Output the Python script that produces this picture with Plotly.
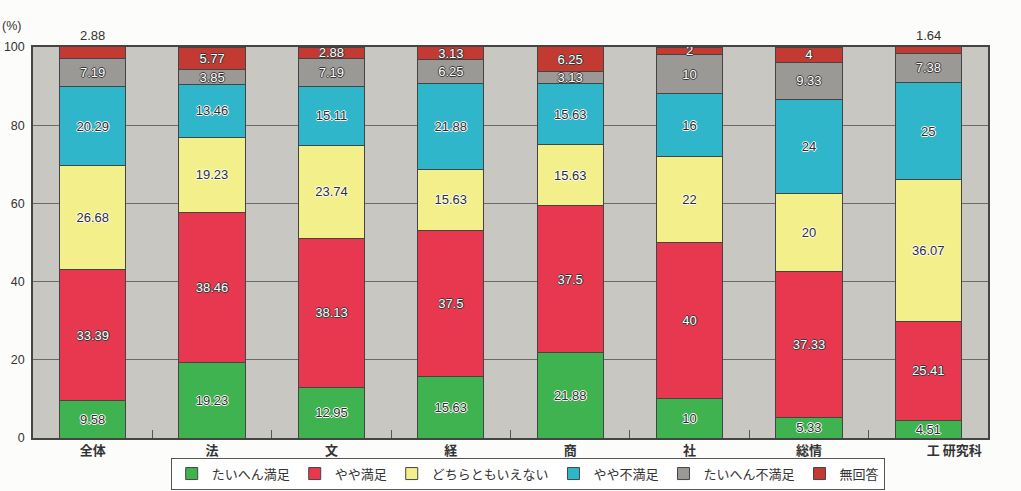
import plotly.graph_objects as go

categories = ["全体", "法", "文", "経", "商", "社", "総情", "工 研究科"]
tick_labels = ["全体", "法", "文", "経", "商", "社", "総情", "\u3000\u3000\u3000\u3000工 研究科"]

series_names = ["たいへん満足", "やや満足", "どちらともいえない", "やや不満足", "たいへん不満足", "無回答"]
very_satisfied = [9.58, 19.23, 12.95, 15.63, 21.88, 10, 5.33, 4.51]
somewhat_satisfied = [33.39, 38.46, 38.13, 37.5, 37.5, 40, 37.33, 25.41]
neutral = [26.68, 19.23, 23.74, 15.63, 15.63, 22, 20, 36.07]
somewhat_dissatisfied = [20.29, 13.46, 15.11, 21.88, 15.63, 16, 24, 25]
very_dissatisfied = [7.19, 3.85, 7.19, 6.25, 3.13, 10, 9.33, 7.38]
no_answer = [2.88, 5.77, 2.88, 3.13, 6.25, 2, 4, 1.64]

series_values = [very_satisfied, somewhat_satisfied, neutral,
                 somewhat_dissatisfied, very_dissatisfied, no_answer]
colors = ["#3fb34f", "#e8384f", "#f3ef8a", "#2fb6cb", "#9b9995", "#c23a32"]

# no-answer values whose label sits above the frame instead of inside
outside_label = [True, False, False, False, False, False, False, True]

num_family = "Liberation Sans, Arial, sans-serif"


def outline(c):
    return f"1px 0 0 {c}, -1px 0 0 {c}, 0 1px 0 {c}, 0 -1px 0 {c}"


# dark digits outlined in white, or white digits outlined in dark grey
dark_on_white = dict(color="#2e2e2e", shadow=outline("#ffffff"))
white_on_dark = dict(color="#ffffff", shadow=outline("#3a3a3a"))
label_styles = [dark_on_white, white_on_dark, dark_on_white,
                dark_on_white, white_on_dark, white_on_dark]

fig = go.Figure()
for name, vals, col, sty in zip(series_names, series_values, colors, label_styles):
    if name == "無回答":
        texts = ["" if o else f"{v:g}" for v, o in zip(vals, outside_label)]
    else:
        texts = [f"{v:g}" for v in vals]
    fig.add_trace(go.Bar(
        name=name, x=categories, y=vals,
        marker=dict(color=col, line=dict(color="#444444", width=1)),
        text=texts, textposition="inside", insidetextanchor="middle",
        textangle=0, constraintext="none",
        textfont=dict(family=num_family, size=13, **sty),
        width=0.555, hoverinfo="x+y+name",
    ))

for cat, v, o in zip(categories, no_answer, outside_label):
    if o:
        fig.add_annotation(x=cat, y=100, text=f"{v:g}", showarrow=False,
                           yanchor="bottom", yshift=2,
                           font=dict(family=num_family, size=13, color="#333333"))

fig.add_annotation(x=0, y=1, xref="paper", yref="paper", xshift=-33, yshift=12,
                   xanchor="left", yanchor="bottom", text="(%)", showarrow=False,
                   font=dict(family=num_family, size=12.5, color="#333333"))

fig.update_layout(
    barmode="stack",
    width=1021, height=491,
    margin=dict(l=33, r=33, t=47, b=53, autoexpand=False),
    paper_bgcolor="#fcfcfa",
    plot_bgcolor="#c9c7c2",
    font=dict(family="Noto Sans CJK JP, sans-serif", size=12.5, color="#333333"),
    uniformtext=dict(minsize=12, mode="show"),
    showlegend=True,
    legend=dict(orientation="h", x=0.518, xanchor="center",
                yref="container", y=0.068, yanchor="top",
                bgcolor="#ffffff", bordercolor="#555555", borderwidth=1,
                font=dict(family="Noto Sans CJK JP, sans-serif", size=13,
                          color="#333333"),
                itemwidth=30, traceorder="normal", tracegroupgap=0),
    xaxis=dict(tickvals=categories, ticktext=tick_labels,
               showline=True, linecolor="#444444", linewidth=1.5, mirror=True,
               ticks="inside", tickson="boundaries", ticklen=8, tickcolor="#555555",
               showgrid=False,
               tickfont=dict(family="Noto Sans CJK JP, sans-serif", size=13,
                             weight="bold")),
    yaxis=dict(range=[0, 100], tickvals=[0, 20, 40, 60, 80, 100],
               showline=True, linecolor="#444444", linewidth=1.5, mirror=True,
               gridcolor="#6a6a6a", gridwidth=1, zeroline=False,
               ticks="", ticklabelstandoff=4,
               tickfont=dict(family=num_family, size=12.5)),
)

fig.write_html("out.html")
